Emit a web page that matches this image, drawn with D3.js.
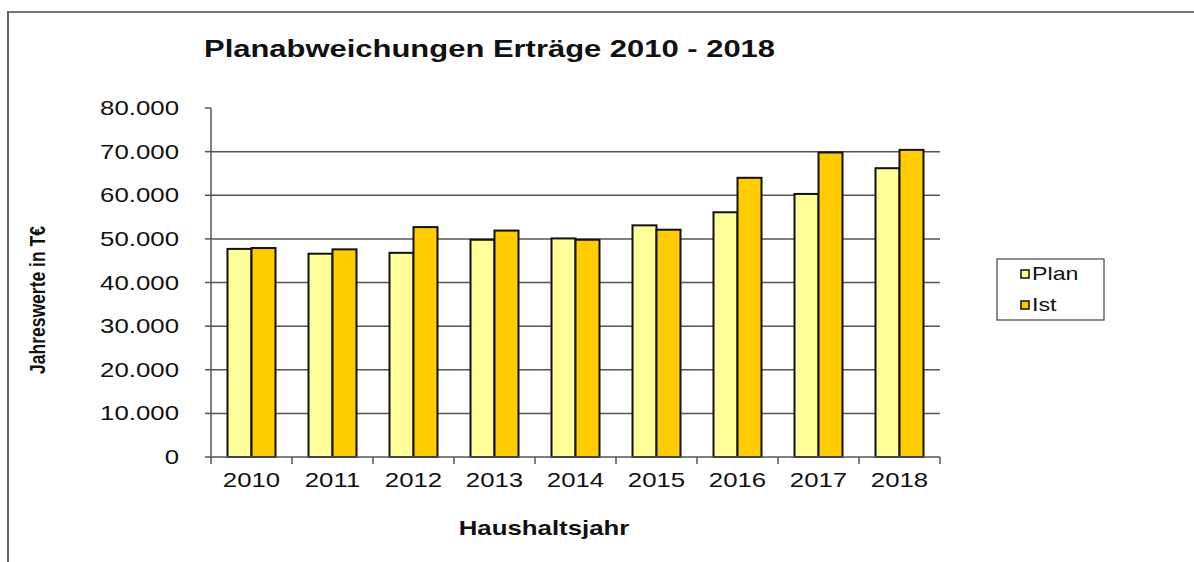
<!DOCTYPE html>
<html><head><meta charset="utf-8">
<script src="https://cdn.jsdelivr.net/npm/d3@7"></script>
<style>
html,body{margin:0;padding:0;background:#fff;}
svg{display:block;font-family:"Liberation Sans",Arial,sans-serif;}
</style></head>
<body><svg id="c" width="1194" height="562"></svg>
<script>
const years = ["2010","2011","2012","2013","2014","2015","2016","2017","2018"];
const seriesNames = ["Plan","Ist"];
const planValues = [47700,46600,46800,49800,50100,53100,56100,60300,66200];
const istValues  = [47900,47600,52700,51900,49800,52100,64000,69800,70400];
const yTicks = [0,10000,20000,30000,40000,50000,60000,70000,80000];
const colors = {"Plan":"#FFFF99","Ist":"#FFCC00"};
const titleText = "Planabweichungen Erträge 2010 - 2018";
const xTitle = "Haushaltsjahr";
const yTitle = "Jahreswerte in T€";

const SX = 1.29; // horizontal stretch of the reference text
const svg = d3.select("#c");
const L = 211, R = 940, T = 108, B = 457;

// frame
svg.append("line").attr("x1",8).attr("x2",1194).attr("y1",12).attr("y2",12).attr("stroke","#777").attr("stroke-width",2);
svg.append("line").attr("x1",8).attr("x2",8).attr("y1",11).attr("y2",562).attr("stroke","#666").attr("stroke-width",2);

const x0 = d3.scaleBand().domain(years).range([L,R]).padding(0);
const x1 = d3.scaleBand().domain(seriesNames).range([0,x0.bandwidth()]).paddingInner(0).paddingOuter(0.6875);
const y = d3.scaleLinear().domain([0,80000]).range([B,T]);
const de = d3.formatLocale({decimal:",",thousands:".",grouping:[3],currency:["","€"]});
const fmt = de.format(",");

// gridlines
svg.append("g").selectAll("line").data(yTicks.filter(v=>v>0 && v<80000)).join("line")
  .attr("x1",L).attr("x2",R).attr("y1",d=>y(d)).attr("y2",d=>y(d))
  .attr("stroke","#555").attr("stroke-width",1.5);

// bars
const data = years.map((yr,i)=>({year:yr, Plan:planValues[i], Ist:istValues[i]}));
const g = svg.append("g").selectAll("g").data(data).join("g")
  .attr("transform",d=>`translate(${x0(d.year)},0)`);
g.selectAll("rect").data(d=>seriesNames.map(s=>({s, v:d[s]}))).join("rect")
  .attr("x",d=>x1(d.s)).attr("width",x1.bandwidth())
  .attr("y",d=>y(d.v)).attr("height",d=>B-y(d.v))
  .attr("fill",d=>colors[d.s]).attr("stroke","#111").attr("stroke-width",2);

// y axis
svg.append("line").attr("x1",L).attr("x2",L).attr("y1",T).attr("y2",B).attr("stroke","#555").attr("stroke-width",1.5);
svg.append("g").selectAll("line").data(yTicks).join("line")
  .attr("x1",L-6).attr("x2",L).attr("y1",d=>y(d)).attr("y2",d=>y(d)).attr("stroke","#555").attr("stroke-width",1.5);
svg.append("g").selectAll("text").data(yTicks).join("text")
  .attr("transform",d=>`translate(179,${y(d)+7}) scale(${SX},1)`)
  .attr("text-anchor","end").attr("font-size",20).attr("fill","#111")
  .text(d=>fmt(d));

// x axis
svg.append("line").attr("x1",L).attr("x2",R).attr("y1",B).attr("y2",B).attr("stroke","#555").attr("stroke-width",1.5);
const bounds = years.map(d=>x0(d)).concat([x0(years[years.length-1])+x0.bandwidth()]);
svg.append("g").selectAll("line").data(bounds).join("line")
  .attr("x1",d=>d).attr("x2",d=>d).attr("y1",B).attr("y2",B+7).attr("stroke","#555").attr("stroke-width",1.5);
svg.append("g").selectAll("text").data(years).join("text")
  .attr("transform",d=>`translate(${x0(d)+x0.bandwidth()/2},487) scale(${SX},1)`)
  .attr("text-anchor","middle").attr("font-size",20).attr("fill","#111")
  .text(d=>d);

// titles
svg.append("text").attr("transform",`translate(204,57) scale(${SX},1)`)
  .attr("font-size",24).attr("font-weight","bold").attr("fill","#111").text(titleText);
svg.append("text").attr("transform",`translate(544,535) scale(${SX},1)`)
  .attr("text-anchor","middle").attr("font-size",20).attr("font-weight","bold").attr("fill","#111").text(xTitle);
svg.append("text").attr("transform",`translate(45,300) scale(${SX},1) rotate(-90)`)
  .attr("text-anchor","middle").attr("font-size",17.5).attr("font-weight","bold").attr("fill","#111").text(yTitle);

// legend
svg.append("rect").attr("x",997).attr("y",259).attr("width",107).attr("height",61)
  .attr("fill","#fff").attr("stroke","#444").attr("stroke-width",1.2);
const leg = svg.append("g").selectAll("g").data(seriesNames).join("g")
  .attr("transform",(d,i)=>`translate(1021,${270+i*31})`);
leg.append("rect").attr("width",8).attr("height",8).attr("fill",d=>colors[d]).attr("stroke","#111").attr("stroke-width",1.5);
leg.append("text").attr("transform",`translate(11,10) scale(${SX},1)`)
  .attr("font-size",18).attr("fill","#111").text(d=>d);
</script></body></html>
